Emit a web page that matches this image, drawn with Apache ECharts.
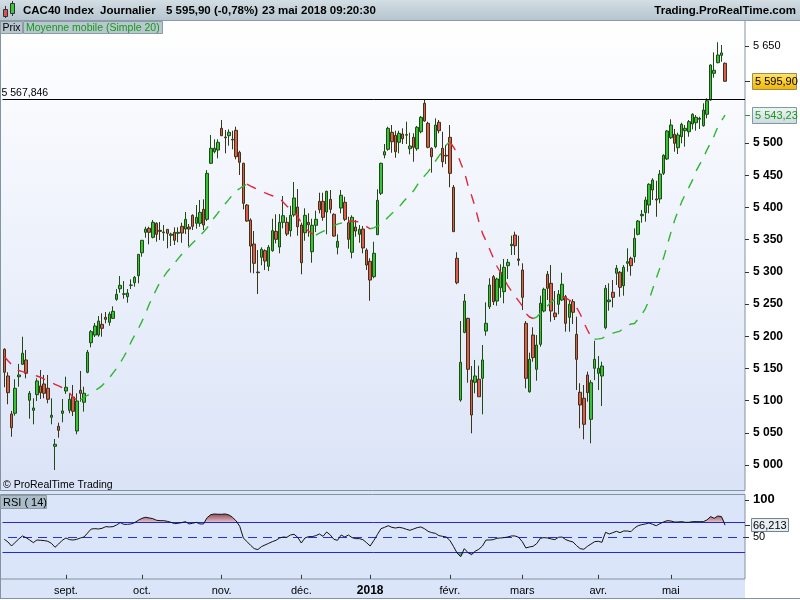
<!DOCTYPE html>
<html><head><meta charset="utf-8">
<script src="https://cdn.jsdelivr.net/npm/echarts@6/dist/echarts.min.js"></script>
<style>html,body{margin:0;padding:0;background:#fff}#c{width:800px;height:600px}</style>
</head><body><div id="c"></div><script>
// ---- data ----
const startDate = '2017-08-09', endDate = '2018-05-23';
const holidays = ['2017-12-25','2017-12-26','2018-01-01','2018-03-30','2018-04-02','2018-05-01'];
const openP = [5179.7,5138.2,5079.2,5080.3,5137.1,5156.4,5163.1,5100.5,5084.9,5109.2,
5122.7,5125.8,5119.1,5074.1,5029.0,5060.1,5080.3,5114.9,5084.9,5105.6,
5052.8,5116.0,5097.4,5144.0,5189.9,5201.8,5201.8,5218.4,5229.3,5221.5,
5227.7,5257.2,5273.7,5265.0,5261.3,5279.0,5283.0,5293.9,5329.6,5361.3,
5367.5,5353.5,5375.3,5364.4,5360.7,5365.9,5356.6,5361.3,5359.7,5370.6,
5366.4,5369.5,5387.7,5375.3,5375.3,5397.0,5381.5,5468.5,5486.5,5489.1,
5522.8,5509.3,5511.3,5505.7,5519.7,5485.5,5468.5,5403.7,5380.4,5343.1,
5299.6,5322.5,5332.8,5308.5,5332.8,5362.8,5338.5,5376.8,5376.8,5363.8,
5388.2,5400.6,5372.6,5360.7,5376.8,5331.2,5372.2,5409.4,5409.4,5392.8,
5412.5,5389.2,5338.0,5399.0,5407.9,5376.2,5330.3,5369.5,5358.2,5366.4,
5333.8,5316.3,5292.4,5357.6,5421.9,5481.3,5490.2,5516.6,5511.9,5501.1,
5513.9,5512.1,5491.1,5508.8,5491.1,5517.5,5561.6,5530.6,5491.8,5494.3,
5532.1,5491.8,5480.9,5508.8,5431.2,5320.9,5100.9,5206.0,5227.7,5131.9,
5128.4,5133.1,5134.6,5208.0,5245.8,5292.4,5254.6,5275.3,5269.1,5309.5,
5340.5,5357.1,5319.9,5302.8,5220.0,5113.8,5201.8,5148.6,5187.4,5239.1,
5296.1,5282.1,5236.0,5249.5,5256.2,5261.3,5229.3,5253.6,5202.9,5112.9,
5103.6,5139.8,5070.9,5150.2,5142.4,5138.2,5213.2,5253.6,5268.2,5297.7,
5299.2,5278.4,5313.2,5320.9,5323.4,5358.2,5387.1,5391.8,5403.7,5427.0,
5413.1,5413.1,5452.9,5475.2,5508.2,5513.5,5492.7,5509.8,5519.1,5517.5,
5529.5,5531.5,5536.8,5526.9,5544.6,5566.8,5608.2,5624.7,5636.1,5623.8];
const highP = [5181.2,5144.0,5083.9,5133.1,5156.9,5199.2,5178.6,5114.9,5103.6,5134.6,
5147.5,5139.8,5139.8,5103.6,5040.4,5065.7,5102.5,5137.1,5111.3,5124.2,
5111.3,5146.0,5121.6,5178.6,5209.6,5220.5,5231.3,5235.5,5237.5,5238.0,
5246.4,5273.2,5293.4,5285.7,5273.2,5288.3,5293.4,5327.6,5349.3,5370.0,
5370.0,5380.4,5376.8,5377.3,5372.6,5365.9,5360.7,5369.0,5369.0,5376.2,
5392.8,5374.2,5389.2,5403.7,5411.5,5412.5,5458.0,5512.4,5505.7,5505.7,
5535.7,5520.1,5521.2,5519.1,5525.3,5488.0,5469.4,5405.2,5383.0,5363.3,
5333.8,5338.0,5334.9,5341.6,5382.4,5389.2,5389.7,5417.7,5384.6,5402.6,
5439.4,5428.5,5376.2,5398.6,5390.8,5382.4,5394.8,5422.8,5422.8,5425.9,
5427.0,5390.8,5358.2,5427.0,5416.6,5385.5,5387.7,5380.4,5372.6,5371.1,
5336.5,5320.9,5346.7,5428.1,5469.4,5498.4,5525.3,5527.9,5519.1,5519.1,
5522.8,5533.1,5516.0,5515.0,5526.4,5541.9,5567.8,5533.1,5493.3,5538.3,
5535.7,5517.5,5496.9,5527.9,5434.8,5330.3,5223.6,5265.5,5228.7,5153.7,
5163.1,5154.2,5186.3,5252.6,5289.9,5295.0,5290.8,5311.6,5319.9,5319.9,
5356.1,5362.3,5356.1,5313.2,5223.6,5174.4,5213.8,5201.8,5262.9,5275.3,
5301.2,5310.5,5270.2,5271.7,5298.6,5264.0,5254.6,5257.7,5230.3,5126.9,
5124.2,5144.9,5131.9,5193.0,5169.2,5160.4,5279.5,5282.1,5287.2,5310.5,
5301.2,5310.5,5336.5,5323.4,5367.5,5380.4,5395.9,5416.6,5437.4,5445.2,
5441.4,5458.0,5482.4,5520.1,5536.8,5521.7,5516.0,5531.5,5527.9,5535.7,
5546.1,5543.4,5540.8,5561.6,5569.4,5622.2,5640.8,5656.4,5652.2,5625.0];
const lowP = [5120.7,5094.3,5043.9,5076.6,5121.6,5155.3,5134.6,5071.9,5063.2,5099.4,
5102.5,5103.6,5095.8,5063.2,4992.2,5042.4,5066.3,5110.3,5080.3,5076.1,
5047.7,5098.3,5082.8,5142.4,5182.8,5198.7,5199.2,5199.2,5220.0,5216.3,
5226.7,5255.1,5267.5,5258.2,5252.0,5273.2,5276.8,5282.1,5323.4,5352.9,
5342.7,5351.9,5346.7,5349.3,5348.2,5336.5,5340.0,5341.6,5345.8,5345.1,
5358.6,5340.0,5364.9,5366.9,5370.0,5364.9,5378.8,5467.4,5484.0,5476.2,
5510.8,5484.0,5495.8,5490.2,5474.7,5450.3,5397.0,5377.8,5298.6,5297.6,
5265.5,5310.1,5302.8,5301.2,5331.2,5344.2,5328.7,5367.5,5355.5,5354.5,
5385.5,5356.1,5296.1,5348.2,5354.5,5314.1,5361.8,5390.8,5379.3,5358.2,
5390.8,5354.5,5327.1,5390.8,5378.8,5335.8,5320.9,5354.5,5345.1,5328.7,
5302.8,5255.1,5289.9,5357.1,5419.2,5476.2,5488.0,5484.9,5477.1,5484.0,
5498.4,5498.4,5482.4,5470.9,5488.0,5515.0,5533.1,5491.8,5453.9,5491.8,
5515.0,5462.3,5467.4,5431.2,5362.3,5280.6,5098.3,5204.5,5127.8,5049.2,
5111.3,5106.0,5078.7,5200.8,5242.2,5248.4,5247.3,5259.8,5251.1,5288.8,
5326.1,5326.1,5309.5,5240.7,5119.1,5112.3,5160.4,5130.9,5183.7,5237.1,
5256.2,5222.5,5225.1,5234.0,5254.6,5207.0,5207.0,5218.9,5116.4,5057.0,
5039.9,5098.3,5033.7,5131.9,5116.4,5091.6,5210.7,5239.6,5244.8,5279.5,
5261.3,5262.9,5300.2,5293.9,5314.1,5356.6,5376.2,5377.8,5390.8,5411.5,
5385.5,5406.3,5450.3,5473.6,5506.2,5486.5,5482.9,5499.5,5494.3,5509.8,
5521.2,5519.1,5521.7,5525.3,5538.3,5565.7,5601.4,5623.8,5626.2,5595.0];
const closeP = [5144.0,5112.3,5057.9,5119.1,5139.8,5173.5,5142.4,5111.3,5088.5,5130.5,
5112.3,5111.3,5102.0,5077.2,5032.1,5053.9,5083.9,5120.7,5102.0,5083.4,
5099.4,5111.3,5111.3,5175.0,5207.0,5215.8,5223.5,5212.2,5226.2,5234.4,
5238.6,5265.0,5279.0,5265.9,5267.0,5279.5,5291.4,5327.1,5348.9,5366.4,
5361.3,5376.8,5358.2,5362.8,5361.8,5359.7,5358.6,5348.9,5361.3,5360.2,
5381.5,5366.4,5370.6,5384.6,5392.3,5372.6,5452.9,5491.8,5491.8,5501.1,
5511.3,5508.2,5516.6,5504.6,5478.7,5470.0,5406.3,5378.8,5340.0,5313.2,
5298.6,5334.9,5316.7,5338.0,5363.8,5350.4,5376.8,5387.1,5358.6,5387.7,
5414.6,5370.0,5314.1,5387.7,5373.1,5372.2,5381.5,5396.4,5384.6,5425.0,
5397.0,5355.5,5347.3,5418.8,5381.5,5350.4,5384.6,5363.3,5365.9,5337.0,
5310.5,5287.2,5328.7,5411.0,5468.5,5486.5,5522.8,5502.0,5486.5,5515.0,
5506.6,5513.0,5495.3,5493.3,5524.4,5539.9,5534.1,5493.3,5478.7,5527.9,
5519.1,5470.9,5479.8,5452.9,5362.3,5283.0,5159.5,5254.6,5148.6,5077.6,
5138.2,5106.0,5163.1,5220.0,5279.5,5253.6,5288.8,5299.2,5307.0,5314.7,
5342.7,5340.5,5317.8,5260.4,5134.6,5164.1,5166.6,5186.3,5251.1,5272.8,
5274.4,5239.1,5230.3,5265.0,5280.6,5220.0,5249.5,5237.1,5164.1,5093.2,
5063.2,5112.3,5127.8,5164.1,5150.2,5153.7,5274.4,5256.2,5260.4,5305.4,
5275.9,5307.0,5315.7,5309.5,5352.0,5378.8,5389.2,5411.5,5435.9,5442.5,
5411.5,5451.8,5480.9,5518.6,5527.9,5499.5,5512.4,5529.0,5522.8,5533.1,
5544.6,5539.9,5538.3,5551.2,5565.7,5621.1,5612.9,5636.6,5639.9,5595.9];
const ma20 = [5168.4,5161.9,5156.0,5150.3,5146.7,5145.1,5143.6,5141.9,5140.1,5138.2,
5136.3,5133.4,5130.5,5127.8,5125.3,5122.8,5119.9,5116.1,5112.2,5104.5,
5101.5,5101.0,5104.8,5108.3,5111.8,5115.4,5119.0,5123.3,5129.2,5135.3,
5142.7,5150.1,5158.9,5168.1,5178.2,5191.1,5201.6,5211.7,5223.0,5235.5,
5249.5,5261.4,5273.0,5283.8,5292.4,5300.2,5306.8,5313.5,5320.4,5327.2,
5333.0,5338.8,5344.6,5350.3,5356.1,5361.9,5368.4,5376.6,5384.4,5391.6,
5398.7,5405.6,5412.4,5419.3,5425.8,5429.3,5432.9,5436.0,5433.1,5430.5,
5427.8,5425.2,5422.6,5420.1,5418.1,5416.1,5414.1,5408.1,5402.1,5397.1,
5392.1,5386.1,5376.0,5368.0,5363.1,5359.1,5357.1,5359.9,5362.7,5365.5,
5368.4,5371.4,5374.0,5375.6,5377.2,5378.8,5378.6,5378.2,5377.2,5374.1,
5370.2,5366.8,5368.3,5371.0,5373.7,5379.5,5385.2,5390.6,5395.5,5400.8,
5407.5,5414.1,5420.0,5425.8,5434.7,5442.5,5448.9,5455.2,5463.2,5471.7,
5479.6,5487.5,5497.0,5502.0,5493.8,5484.8,5468.9,5455.7,5434.6,5418.6,
5400.4,5378.5,5360.1,5347.9,5334.9,5321.6,5308.6,5298.9,5288.8,5278.4,
5270.2,5262.1,5254.9,5247.2,5235.4,5229.8,5227.5,5229.7,5235.5,5241.2,
5247.2,5253.2,5257.1,5259.0,5260.9,5259.6,5256.1,5252.7,5244.6,5234.5,
5221.3,5209.7,5198.7,5195.3,5195.9,5196.7,5199.5,5202.2,5204.7,5206.3,
5208.0,5212.7,5215.9,5219.0,5219.8,5226.7,5233.8,5242.9,5255.7,5273.2,
5289.7,5306.1,5321.3,5340.8,5360.5,5378.8,5394.1,5408.5,5420.0,5431.0,
5442.3,5456.6,5466.8,5477.0,5489.3,5500.0,5511.5,5525.2,5534.4,5543.2];
const rsi14 = [47.3,43.8,38.4,43.3,47.8,51.8,49.6,46.4,42.9,46.4,
46.0,45.6,44.7,42.0,36.7,41.1,46.0,49.1,46.9,46.4,
47.3,49.1,50.4,55.8,61.1,61.5,61.1,62.0,64.2,63.8,
64.2,66.4,69.6,67.3,67.3,67.8,69.6,72.7,75.3,76.7,
75.8,74.9,72.7,72.2,72.2,71.3,70.0,68.2,68.7,69.6,
70.9,67.8,68.7,70.0,67.8,67.8,76.2,80.2,81.1,80.7,
80.7,81.1,79.8,76.7,71.8,64.7,49.1,44.2,39.3,34.9,
33.6,37.6,39.8,42.0,44.2,46.0,49.1,50.4,50.0,53.1,
54.0,50.0,42.4,49.1,50.9,50.9,52.2,54.4,51.3,57.1,
53.1,47.3,46.0,53.1,50.4,53.1,49.6,48.2,48.2,46.9,
42.9,38.4,45.6,53.6,61.5,63.3,65.5,63.3,62.4,63.3,
62.4,60.7,59.3,61.1,62.9,63.8,61.5,58.0,56.2,55.3,
52.2,51.3,50.4,46.0,38.0,29.1,24.2,34.9,29.6,26.9,
31.4,34.0,38.4,46.4,46.4,46.9,48.7,49.1,49.6,50.4,
51.8,51.8,50.0,44.2,35.8,37.1,38.0,41.6,48.7,49.6,
49.1,47.8,46.9,50.0,50.4,46.9,45.1,43.8,38.9,34.9,
34.0,38.0,41.1,44.2,44.7,43.3,56.7,54.4,56.2,58.0,
56.2,58.4,58.4,57.5,62.4,65.5,66.9,67.8,69.1,67.3,
65.5,68.2,70.4,72.2,71.8,70.4,70.4,70.9,70.0,70.0,
70.9,70.9,70.9,70.9,73.1,77.6,75.3,78.4,77.6,66.213];
const priceTicks = [5000,5050,5100,5150,5200,5250,5300,5350,5400,5450,5500,5650];
const rsiTicks = [50,100];
const rsiBands = [70,30];
const rsiMid = 50;
const monthNames = ['2018','févr.','mars','avr.','mai','juin','juil.','août','sept.','oct.','nov.','déc.'];
const lastClose = 5595.90, lastMA = 5543.23, lastRSI = 66.213, refLevel = 5567.846;
const padCount = 5;

// ---- build ----
function buildDates(){
  const out=[]; const d=new Date(startDate+'T00:00:00Z'); const end=new Date(endDate+'T00:00:00Z');
  while(d<=end){ const wd=d.getUTCDay(); const s=d.toISOString().slice(0,10);
    if(wd!==0&&wd!==6&&holidays.indexOf(s)<0) out.push(s); d.setUTCDate(d.getUTCDate()+1); }
  return out;
}
const dates = buildDates();
const cats = dates.concat(Array(padCount).fill(''));
const isMonthStart = cats.map((v,i)=> i>0 && v!=='' && v.slice(5,7)!==cats[i-1].slice(5,7));
const candles = openP.map((o,i)=>[o, closeP[i], lowP[i], highP[i]]);
const maUp = ma20.map(()=>null), maDn = ma20.map(()=>null);
for(let i=0;i<ma20.length-1;i++){ const a = ma20[i+1]>=ma20[i]?maUp:maDn; a[i]=ma20[i]; a[i+1]=ma20[i+1]; }
const hiBase = rsi14.map(()=>70), hiFill = rsi14.map(v=>Math.max(v-70,0));
const loBase = rsi14.map(v=>Math.min(v,30)), loFill = rsi14.map(v=>30-Math.min(v,30));

function fr(v,d){ const s=v.toFixed(d).split('.'); const int=s[0].replace(/\B(?=(\d{3})+(?!\d))/g,' '); return s.length>1? int+','+s[1] : int; }

const FONT = '"Liberation Sans", Arial, sans-serif';
const GL = 2.5, GW = 742.5;
const chart = echarts.init(document.getElementById('c'), null, {renderer:'canvas'});
const dashed = [10,9];
chart.setOption({
  animation:false,
  textStyle:{fontFamily:FONT},
  grid:[{left:GL, width:GW, top:14.2, height:483.0},{left:GL, width:GW, top:499.8, height:75}],
  xAxis:[
    {type:'category', gridIndex:0, data:cats, show:false},
    {type:'category', gridIndex:1, data:cats, position:'bottom', offset:4.2,
     axisLine:{show:false},
     axisTick:{show:true, length:4, alignWithLabel:true, interval:(i)=>isMonthStart[i], lineStyle:{color:'#333'}},
     axisLabel:{interval:(i)=>isMonthStart[i], color:'#000', fontSize:11, margin:6,
       formatter:(v)=>{ if(!v) return ''; const m=+v.slice(5,7)-1; return m===0? '{b|'+v.slice(0,4)+'}' : monthNames[m]; },
       rich:{b:{fontWeight:'bold', fontSize:12, color:'#000'}}},
     splitLine:{show:false}}
  ],
  yAxis:[
    {type:'value', gridIndex:0, position:'right', min:4950, max:5700, interval:50, scale:true,
     axisLine:{show:false}, splitLine:{show:false},
     axisTick:{show:true, length:4, customValues:priceTicks, lineStyle:{color:'#333'}},
     axisLabel:{customValues:priceTicks, color:'#000', fontSize:11, margin:8,
       formatter:(v)=> v===5650? fr(v,0) : '{b|'+fr(v,0)+'}', rich:{b:{fontWeight:'bold', fontSize:12, color:'#000'}}}},
    {type:'value', gridIndex:1, position:'right', min:0, max:100, interval:50,
     axisLine:{show:false}, splitLine:{show:false},
     axisTick:{show:true, length:4, customValues:rsiTicks, lineStyle:{color:'#333'}},
     axisLabel:{customValues:rsiTicks, color:'#000', fontSize:11, margin:8,
       formatter:(v)=> v===100? '{b|100}' : String(v), rich:{b:{fontWeight:'bold', fontSize:13, color:'#000'}}}}
  ],
  series:[
    {type:'candlestick', xAxisIndex:0, yAxisIndex:0, data:candles, barWidth:3,
     itemStyle:{color:'#36c436', color0:'#e05a4e', borderColor:'#1f4a16', borderColor0:'#3a3418', borderWidth:1},
     markLine:{silent:true, symbol:['none','none'], animation:false,
       lineStyle:{color:'#000', width:1, type:'solid'},
       label:{show:true, position:'insideStartTop', formatter:fr(refLevel,3), color:'#000', fontSize:10.5, distance:[-1,1]},
       data:[{yAxis:refLevel}]}},
    {type:'line', xAxisIndex:0, yAxisIndex:0, data:maUp, symbol:'none', connectNulls:false,
     lineStyle:{color:'#2fb62f', width:1.4, type:dashed}},
    {type:'line', xAxisIndex:0, yAxisIndex:0, data:maDn, symbol:'none', connectNulls:false,
     lineStyle:{color:'#e0283a', width:1.4, type:dashed}},
    {type:'line', xAxisIndex:1, yAxisIndex:1, data:hiBase, stack:'hi', symbol:'none', lineStyle:{opacity:0}},
    {type:'line', xAxisIndex:1, yAxisIndex:1, data:hiFill, stack:'hi', symbol:'none', lineStyle:{opacity:0},
     areaStyle:{opacity:1, color:new echarts.graphic.LinearGradient(0,0,0,1,[{offset:0,color:'#8e4c5c'},{offset:1,color:'#e6c0c6'}])}},
    {type:'line', xAxisIndex:1, yAxisIndex:1, data:loBase, stack:'lo', symbol:'none', lineStyle:{opacity:0}},
    {type:'line', xAxisIndex:1, yAxisIndex:1, data:loFill, stack:'lo', symbol:'none', lineStyle:{opacity:0},
     areaStyle:{opacity:1, color:'#5fae5f'}},
    {type:'line', xAxisIndex:1, yAxisIndex:1, data:rsi14, symbol:'none', z:5, lineStyle:{color:'#111', width:1},
     markLine:{silent:true, symbol:['none','none'], animation:false, label:{show:false},
       lineStyle:{color:'#2626e0', width:1, type:'solid'},
       data:rsiBands.map(v=>({yAxis:v}))}}
  ]
});

const yClose = chart.convertToPixel({yAxisIndex:0}, lastClose);
const yMA = chart.convertToPixel({yAxisIndex:0}, lastMA);
const yRSI = chart.convertToPixel({yAxisIndex:1}, lastRSI);
const yMid = Math.round(chart.convertToPixel({yAxisIndex:1}, rsiMid)) + 0.5;
const BORDER = '#8493a0';
function txt(x,y,t,font,fill,align){ return {type:'text', z:100, style:{x:x,y:y,text:t,font:(font||'10.5px')+' '+FONT,fill:fill||'#000',textAlign:align||'left',textVerticalAlign:'middle'}}; }
const HB = 'bold 11.5px';
const g = [
  {type:'rect', z:-5, shape:{x:0,y:20,width:745,height:578}, style:{fill:'#dbe5f9'}},
  {type:'rect', z:-4, shape:{x:0.5,y:20.5,width:744.5,height:470}, style:{fill:new echarts.graphic.LinearGradient(0,0,0,1,[{offset:0,color:'#ffffff'},{offset:1,color:'#dae3f7'}]), stroke:BORDER, lineWidth:1}},
  {type:'rect', z:-4, shape:{x:0.5,y:494.5,width:744.5,height:84.5}, style:{fill:'#dbe5fa', stroke:BORDER, lineWidth:1}},
  {type:'line', z:1, shape:{x1:8,y1:yMid,x2:745,y2:yMid}, style:{stroke:'#2330e6', lineWidth:1, lineDash:[9,6]}},
  {type:'line', z:-3, shape:{x1:0,y1:598.5,x2:800,y2:598.5}, style:{stroke:BORDER, lineWidth:1}},
  {type:'line', z:-3, shape:{x1:0.5,y1:579,x2:0.5,y2:598}, style:{stroke:BORDER, lineWidth:1}},
  // header
  {type:'rect', z:100, shape:{x:0,y:0,width:800,height:20}, style:{fill:new echarts.graphic.LinearGradient(0,0,0,1,[{offset:0,color:'#d3dde4'},{offset:1,color:'#b5c5cf'}])}},
  {type:'line', z:101, shape:{x1:0,y1:20.5,x2:800,y2:20.5}, style:{stroke:'#8a9aa6', lineWidth:1}},
  {type:'line', z:101, shape:{x1:5.5,y1:6,x2:5.5,y2:18}, style:{stroke:'#333', lineWidth:1}},
  {type:'rect', z:102, shape:{x:3.5,y:9.5,width:4,height:7}, style:{fill:'#e05050', stroke:'#333', lineWidth:1}},
  {type:'line', z:101, shape:{x1:12.5,y1:1,x2:12.5,y2:16}, style:{stroke:'#333', lineWidth:1}},
  {type:'rect', z:102, shape:{x:10.5,y:3.5,width:4,height:10}, style:{fill:'#3c3', stroke:'#333', lineWidth:1}},
  txt(23,11,'CAC40 Index',HB),
  txt(100,11,'Journalier',HB),
  txt(166,11,fr(lastClose,2)+' (-0,78%)',HB),
  txt(262,11,'23 mai 2018 09:20:30',HB),
  txt(796,11,'Trading.ProRealTime.com',HB,'#000','right'),
  // legend boxes
  {type:'rect', z:100, shape:{x:0.5,y:21.5,width:22,height:12}, style:{fill:'#b8c7cf', stroke:'#8c9ba5', lineWidth:1}},
  txt(2.5,28,'Prix'),
  {type:'rect', z:100, shape:{x:23.5,y:21.5,width:139,height:12}, style:{fill:'#b8c7cf', stroke:'#8c9ba5', lineWidth:1}},
  txt(26,28,'Moyenne mobile (Simple 20)','10.5px','#139a13'),
  txt(3,485,'© ProRealTime Trading'),
  {type:'rect', z:100, shape:{x:0.5,y:495.5,width:46,height:13}, style:{fill:'#a9bcc7', stroke:'#8c9ba5', lineWidth:1}},
  txt(3,502.5,'RSI ( 14)','11px'),
  // right markers
  {type:'line', z:100, shape:{x1:745,y1:Math.round(yClose)+0.5,x2:750,y2:Math.round(yClose)+0.5}, style:{stroke:'#333', lineWidth:1}},
  {type:'rect', z:100, shape:{x:752.5,y:Math.round(yClose)-7.5,width:44,height:16}, style:{fill:new echarts.graphic.LinearGradient(0,0,0,1,[{offset:0,color:'#ffe66a'},{offset:1,color:'#f2b300'}]), stroke:'#9b8c55', lineWidth:1}},
  txt(755,Math.round(yClose)+0.5,fr(lastClose,2),'11px'),
  {type:'line', z:100, shape:{x1:745,y1:Math.round(yMA)+0.5,x2:750,y2:Math.round(yMA)+0.5}, style:{stroke:'#2a9a2a', lineWidth:1}},
  {type:'rect', z:100, shape:{x:752.5,y:Math.round(yMA)-7.5,width:44,height:16}, style:{fill:new echarts.graphic.LinearGradient(0,0,0,1,[{offset:0,color:'#f1f5f7'},{offset:1,color:'#cdd8df'}]), stroke:'#7f97a6', lineWidth:1}},
  txt(755,Math.round(yMA)+0.5,fr(lastMA,2),'11px','#169c16'),
  {type:'line', z:100, shape:{x1:745,y1:Math.round(yRSI)+0.5,x2:750,y2:Math.round(yRSI)+0.5}, style:{stroke:'#333', lineWidth:1}},
  {type:'rect', z:100, shape:{x:751.5,y:Math.round(yRSI)-6.5,width:37,height:13}, style:{fill:'#e8eef2', stroke:'#6e8494', lineWidth:1}},
  txt(753,Math.round(yRSI)+0.5,fr(lastRSI,3),'11px')
];
chart.setOption({graphic:{elements:g}});
</script></body></html>
